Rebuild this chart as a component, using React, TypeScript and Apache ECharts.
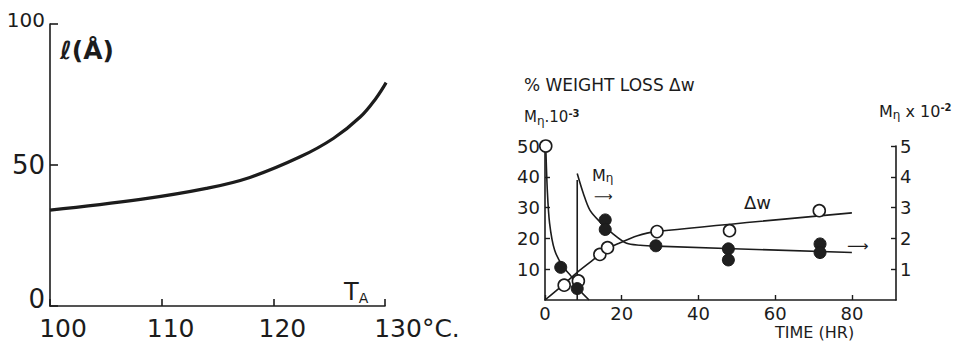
import React, { useEffect, useRef } from "react";
import * as echarts from "echarts";

// ---- Left panel: lamellar thickness vs annealing temperature ----
const TA_VALUES = [100, 108.1, 114, 117.9, 122.4, 125.4, 127.8, 129.2, 130.1];
const L_VALUES = [34.0, 37.8, 41.7, 45.6, 52.9, 59.5, 67.1, 73.7, 79.2];

// ---- Right panel: weight loss and molecular weight vs time ----
const DW_CURVE_T = [0, 4.8, 8.4, 14.3, 16.3, 19.6, 23.9, 29, 80];
const DW_CURVE_V = [0, 5, 9, 14.7, 16.7, 18.6, 20.8, 22.2, 28.3];

const M1_CURVE_T = [0.2, 0.6, 1.2, 2.5, 4.7, 6.9, 8.6, 11.5];
const M1_CURVE_V = [50, 35.7, 24.9, 16.2, 10.8, 7.6, 3.8, 0];

const M2_CURVE_T = [8.4, 10, 11.7, 14.3, 17.8, 21.3, 24.8, 29, 80];
const M2_CURVE_V = [4.11, 3.46, 2.92, 2.54, 2.14, 1.84, 1.78, 1.75, 1.54];

const BREAK_T = [8.4, 8.4];
const BREAK_V = [0, 39];

const OPEN_T = [0.2, 5, 8.7, 14.3, 16.3, 29.2, 48.1, 71.5];
const OPEN_V = [50, 4.8, 6.2, 14.8, 17, 22.2, 22.5, 29];

const FILLED_LEFT_T = [4.1, 8.4];
const FILLED_LEFT_V = [10.6, 3.7];

const FILLED_RIGHT_T = [15.7, 15.7, 28.9, 47.8, 47.8, 71.7, 71.7];
const FILLED_RIGHT_V = [2.6, 2.29, 1.76, 1.66, 1.3, 1.82, 1.54];

const LEFT_X_TICKS = [100, 110, 120, 130];
const LEFT_Y_TICKS = [0, 50, 100];
const RIGHT_X_TICKS = [0, 20, 40, 60, 80];

const zip = (a: number[], b: number[]) => a.map((v, i) => [v, b[i]]);

const INK = "#1c1c1c";
const FONT = "DejaVu Sans";

export default function App() {
  const ref = useRef<HTMLDivElement>(null);

  useEffect(() => {
    if (!ref.current) return;
    const chart = echarts.init(ref.current, null, { renderer: "svg" });

    const axisLine = { show: true, lineStyle: { color: INK, width: 1.6 } };
    const subStyle = { fontSize: 12, fontFamily: FONT, fill: INK, padding: [8, 0, 0, 0] };
    const supStyle = { fontSize: 10, fontFamily: FONT, fill: INK, fontWeight: "bold", padding: [0, 0, 8, 0] };

    const option: any = {
      animation: false,
      backgroundColor: "#ffffff",
      textStyle: { fontFamily: FONT, color: INK },
      grid: [
        { left: 50, top: 24, width: 335, height: 282 },
        { left: 545, top: 146, width: 351, height: 154 },
      ],
      xAxis: [
        {
          type: "value",
          gridIndex: 0,
          min: LEFT_X_TICKS[0],
          max: LEFT_X_TICKS[LEFT_X_TICKS.length - 1],
          interval: 10,
          axisLine,
          axisTick: { inside: true, length: 7, lineStyle: { color: INK, width: 1.6 } },
          splitLine: { show: false },
          axisLabel: {
            margin: 10,
            fontSize: 25,
            fontFamily: FONT,
            color: INK,
            formatter: (v: number) => {
              if (v === 100) return "{a|100}";
              if (v === 130) return "{c|130°C.}";
              return "{b|" + v + "}";
            },
            rich: {
              a: { fontSize: 25, fontFamily: FONT, color: INK, padding: [0, 0, 0, 26] },
              b: { fontSize: 25, fontFamily: FONT, color: INK, padding: [0, 0, 0, 18] },
              c: { fontSize: 25, fontFamily: FONT, color: INK, padding: [0, 0, 0, 64] },
            },
          },
        },
        {
          type: "value",
          gridIndex: 1,
          min: RIGHT_X_TICKS[0],
          max: 91.5,
          interval: 20,
          axisLine,
          axisTick: { inside: true, length: 5, lineStyle: { color: INK, width: 1.4 } },
          splitLine: { show: false },
          axisLabel: {
            margin: 4,
            fontSize: 18,
            fontFamily: FONT,
            color: INK,
            showMaxLabel: false,
          },
        },
      ],
      yAxis: [
        {
          type: "value",
          gridIndex: 0,
          min: LEFT_Y_TICKS[0],
          max: LEFT_Y_TICKS[LEFT_Y_TICKS.length - 1],
          interval: 50,
          axisLine,
          axisTick: { inside: true, length: 8, lineStyle: { color: INK, width: 1.6 } },
          splitLine: { show: false },
          axisLabel: {
            margin: 5,
            fontSize: 26,
            fontFamily: FONT,
            color: INK,
            formatter: (v: number) => (v === 100 ? "{s|100}" : v === 0 ? "{z|0}" : String(v)),
            rich: {
              s: { fontSize: 20, fontFamily: FONT, color: INK, padding: [0, 0, 8, 0] },
              z: { fontSize: 26, fontFamily: FONT, color: INK, padding: [0, 0, 14, 0] },
            },
          },
        },
        {
          type: "value",
          gridIndex: 1,
          position: "left",
          min: 0,
          max: 50,
          interval: 10,
          axisLine,
          axisTick: { inside: true, length: 5, lineStyle: { color: INK, width: 1.4 } },
          splitLine: { show: false },
          axisLabel: {
            margin: 5,
            fontSize: 18,
            fontFamily: FONT,
            color: INK,
            showMinLabel: false,
          },
        },
        {
          type: "value",
          gridIndex: 1,
          position: "right",
          min: 0,
          max: 5,
          interval: 1,
          axisLine,
          axisTick: { inside: true, length: 5, lineStyle: { color: INK, width: 1.4 } },
          splitLine: { show: false },
          axisLabel: {
            margin: 4,
            fontSize: 18,
            fontFamily: FONT,
            color: INK,
            showMinLabel: false,
          },
        },
      ],
      series: [
        {
          name: "l",
          type: "line",
          xAxisIndex: 0,
          yAxisIndex: 0,
          data: zip(TA_VALUES, L_VALUES),
          smooth: 0.4,
          showSymbol: false,
          lineStyle: { color: INK, width: 3.2 },
          z: 3,
        },
        {
          name: "Δw curve",
          type: "line",
          xAxisIndex: 1,
          yAxisIndex: 1,
          data: zip(DW_CURVE_T, DW_CURVE_V),
          smooth: 0.3,
          showSymbol: false,
          lineStyle: { color: INK, width: 1.6 },
          z: 2,
        },
        {
          name: "Mη curve 1",
          type: "line",
          xAxisIndex: 1,
          yAxisIndex: 1,
          data: zip(M1_CURVE_T, M1_CURVE_V),
          smooth: 0.3,
          showSymbol: false,
          lineStyle: { color: INK, width: 1.6 },
          z: 2,
        },
        {
          name: "break",
          type: "line",
          xAxisIndex: 1,
          yAxisIndex: 1,
          data: zip(BREAK_T, BREAK_V),
          showSymbol: false,
          lineStyle: { color: INK, width: 1.6 },
          z: 2,
        },
        {
          name: "Mη curve 2",
          type: "line",
          xAxisIndex: 1,
          yAxisIndex: 2,
          data: zip(M2_CURVE_T, M2_CURVE_V),
          smooth: 0.3,
          showSymbol: false,
          lineStyle: { color: INK, width: 1.6 },
          z: 2,
        },
        {
          name: "open",
          type: "scatter",
          xAxisIndex: 1,
          yAxisIndex: 1,
          data: zip(OPEN_T, OPEN_V),
          symbol: "circle",
          symbolSize: 12,
          clip: false,
          itemStyle: { color: "#ffffff", borderColor: INK, borderWidth: 1.6, opacity: 1 },
          z: 5,
        },
        {
          name: "filled left",
          type: "scatter",
          xAxisIndex: 1,
          yAxisIndex: 1,
          data: zip(FILLED_LEFT_T, FILLED_LEFT_V),
          symbol: "circle",
          symbolSize: 12,
          clip: false,
          itemStyle: { color: "#1f1f1f", borderColor: INK, borderWidth: 1, opacity: 1 },
          z: 6,
        },
        {
          name: "filled right",
          type: "scatter",
          xAxisIndex: 1,
          yAxisIndex: 2,
          data: zip(FILLED_RIGHT_T, FILLED_RIGHT_V),
          symbol: "circle",
          symbolSize: 12,
          clip: false,
          itemStyle: { color: "#1f1f1f", borderColor: INK, borderWidth: 1, opacity: 1 },
          z: 6,
        },
      ],
      graphic: [
        {
          type: "text",
          left: 60,
          top: 38,
          style: { text: "ℓ(Å)", fontSize: 25, fontWeight: "bold", fontFamily: FONT, fill: INK },
        },
        {
          type: "text",
          left: 344,
          top: 280,
          style: {
            text: "T{s|A}",
            fontSize: 24,
            fontFamily: FONT,
            fill: INK,
            rich: { s: { fontSize: 14, fontFamily: FONT, fill: INK, padding: [12, 0, 0, 0] } },
          },
        },
        {
          type: "text",
          left: 524,
          top: 76,
          style: { text: "% WEIGHT LOSS Δw", fontSize: 17, fontFamily: FONT, fill: INK },
        },
        {
          type: "text",
          left: 524,
          top: 108,
          style: {
            text: "M{sub|η}.10{sup|-3}",
            fontSize: 15,
            fontFamily: FONT,
            fill: INK,
            rich: { sub: subStyle, sup: supStyle },
          },
        },
        {
          type: "text",
          left: 879,
          top: 102,
          style: {
            text: "M{sub|η} x 10{sup|-2}",
            fontSize: 16,
            fontFamily: FONT,
            fill: INK,
            rich: { sub: subStyle, sup: supStyle },
          },
        },
        {
          type: "text",
          left: 744,
          top: 193,
          style: { text: "Δw", fontSize: 18, fontFamily: FONT, fill: INK },
        },
        {
          type: "text",
          left: 592,
          top: 167,
          style: {
            text: "M{sub|η}",
            fontSize: 16,
            fontFamily: FONT,
            fill: INK,
            rich: { sub: { fontSize: 12, fontFamily: FONT, fill: INK, padding: [5, 0, 0, 0] } },
          },
        },
        {
          type: "text",
          left: 594,
          top: 190,
          style: { text: "⟶", fontSize: 13, fontFamily: FONT, fill: INK, lineHeight: 10 },
        },
        {
          type: "text",
          left: 847,
          top: 238,
          style: { text: "⟶", fontSize: 15, fontFamily: FONT, fill: INK },
        },
        {
          type: "text",
          left: 775,
          top: 324,
          style: { text: "TIME (HR)", fontSize: 16, fontFamily: FONT, fill: INK },
        },
      ],
    };

    chart.setOption(option);
    return () => chart.dispose();
  }, []);

  return (
    <div
      ref={ref}
      style={{ position: "absolute", left: 0, top: 0, width: 963, height: 344, background: "#fff" }}
    />
  );
}
